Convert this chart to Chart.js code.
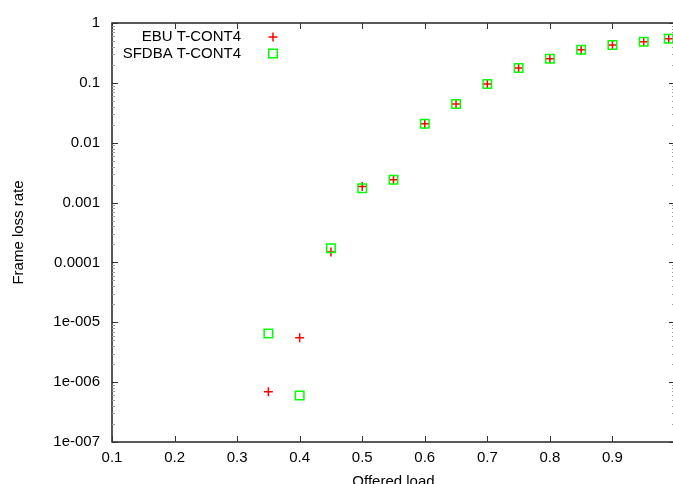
<!DOCTYPE html>
<html>
<head>
<meta charset="utf-8">
<script src="https://cdn.jsdelivr.net/npm/chart.js@4.4.0/dist/chart.umd.min.js"></script>
<style>
  html, body { margin: 0; padding: 0; background: #fff; overflow: hidden; }
  #wrap { width: 673px; height: 484px; overflow: hidden; }
</style>
</head>
<body>
<div id="wrap"><canvas id="grafica" width="690" height="500" style="width:690px;height:500px"></canvas></div>
<script>
  // datos
  const cargaOfrecida = [0.35, 0.4, 0.45, 0.5, 0.55, 0.6, 0.65, 0.7, 0.75, 0.8, 0.85, 0.9, 0.95, 0.99];
  const perdidaEBU   = [6.9e-7, 5.5e-6, 1.5e-4, 1.85e-3, 2.4e-3, 0.0207, 0.0444, 0.0955, 0.177, 0.253, 0.357, 0.428, 0.486, 0.546];
  const perdidaSFDBA = [6.5e-6, 6.0e-7, 1.72e-4, 1.74e-3, 2.4e-3, 0.0207, 0.0444, 0.0955, 0.177, 0.253, 0.357, 0.428, 0.486, 0.546];

  const etiquetas = ["EBU T-CONT4", "SFDBA T-CONT4"];
  const xTickValues = [0.1, 0.2, 0.3, 0.4, 0.5, 0.6, 0.7, 0.8, 0.9];
  const xTickLabels = ["0.1", "0.2", "0.3", "0.4", "0.5", "0.6", "0.7", "0.8", "0.9"];
  const yTickValues = [1e-7, 1e-6, 1e-5, 1e-4, 1e-3, 1e-2, 1e-1, 1];
  const yTickLabels = ["1e-007", "1e-006", "1e-005", "0.0001", "0.001", "0.01", "0.1", "1"];

  const fuente = { family: "'Liberation Sans', Arial, sans-serif", size: 15 };

  // marco tipo gnuplot con ticks hacia dentro
  const marco = {
    id: 'marco',
    afterDatasetsDraw(chart) {
      const ctx = chart.ctx;
      const a = chart.chartArea;
      const xs = chart.scales.x, ys = chart.scales.y;
      ctx.save();
      ctx.strokeStyle = '#222';
      ctx.lineWidth = 1.5;
      ctx.strokeRect(a.left, a.top, a.right - a.left, a.bottom - a.top);

      ctx.lineWidth = 1;
      ctx.strokeStyle = '#333';
      ctx.beginPath();
      xTickValues.forEach(v => {
        const px = Math.round(xs.getPixelForValue(v)) + 0.5;
        ctx.moveTo(px, a.bottom); ctx.lineTo(px, a.bottom - 6);
        ctx.moveTo(px, a.top); ctx.lineTo(px, a.top + 6);
      });
      yTickValues.forEach(v => {
        const py = Math.round(ys.getPixelForValue(v)) + 0.5;
        ctx.moveTo(a.left, py); ctx.lineTo(a.left + 6, py);
        ctx.moveTo(a.right, py); ctx.lineTo(a.right - 6, py);
      });
      ctx.stroke();

      ctx.strokeStyle = '#999';
      ctx.beginPath();
      for (let k = -7; k < 0; k++) {
        for (let m = 2; m <= 9; m++) {
          const py = Math.round(ys.getPixelForValue(m * Math.pow(10, k))) + 0.5;
          ctx.moveTo(a.left, py); ctx.lineTo(a.left + 3, py);
          ctx.moveTo(a.right, py); ctx.lineTo(a.right - 3, py);
        }
      }
      ctx.stroke();

      // leyenda: texto a la derecha alineado, simbolo despues
      ctx.font = fuente.size + "px " + fuente.family;
      ctx.fillStyle = '#000';
      ctx.textAlign = 'right';
      ctx.textBaseline = 'middle';
      chart.data.datasets.forEach((ds, i) => {
        const y = 37 + i * 16.5;
        ctx.fillText(ds.label, 241, y);
        ctx.strokeStyle = ds.pointBorderColor;
        ctx.fillStyle = ds.pointBackgroundColor;
        ctx.lineWidth = ds.pointBorderWidth;
        Chart.helpers.drawPoint(ctx, { pointStyle: ds.pointStyle, radius: ds.pointRadius, rotation: 0, borderWidth: ds.pointBorderWidth }, 273, y);
        ctx.fillStyle = '#000';
      });
      ctx.restore();
    }
  };

  new Chart(document.getElementById('grafica'), {
    type: 'scatter',
    data: {
      datasets: [
        {
          label: etiquetas[0],
          data: cargaOfrecida.map((x, i) => ({ x: x, y: perdidaEBU[i] })),
          pointStyle: 'cross',
          pointRadius: 4.5,
          pointBorderWidth: 1.5,
          pointBorderColor: '#ff0000',
          pointBackgroundColor: '#ff0000',
          showLine: false,
          order: 1
        },
        {
          label: etiquetas[1],
          data: cargaOfrecida.map((x, i) => ({ x: x, y: perdidaSFDBA[i] })),
          pointStyle: 'rect',
          pointRadius: 6,
          pointBorderWidth: 1.5,
          pointBorderColor: '#00ff00',
          pointBackgroundColor: 'rgba(0,0,0,0)',
          showLine: false,
          order: 0
        }
      ]
    },
    options: {
      responsive: false,
      animation: false,
      layout: { padding: { top: 23, right: 15, left: 0, bottom: 0 } },
      plugins: { legend: { display: false }, tooltip: { enabled: false } },
      scales: {
        x: {
          type: 'linear',
          min: 0.1,
          max: 1.0,
          afterBuildTicks: s => { s.ticks = xTickValues.map(v => ({ value: v })); },
          afterFit: s => { s.height = 58; },
          ticks: { callback: (v, i) => xTickLabels[i], font: fuente, color: '#000', padding: 7, maxRotation: 0, autoSkip: false },
          grid: { display: false, drawTicks: false },
          border: { display: false },
          title: { display: true, text: 'Offered load', font: fuente, color: '#000', padding: { top: 0, bottom: 9 } }
        },
        y: {
          type: 'logarithmic',
          min: 1e-7,
          max: 1,
          afterBuildTicks: s => { s.ticks = yTickValues.map(v => ({ value: v })); },
          afterFit: s => { s.width = 112; },
          ticks: { callback: (v, i) => yTickLabels[i], font: fuente, color: '#000', padding: 12, autoSkip: false },
          grid: { display: false, drawTicks: false },
          border: { display: false },
          title: { display: true, text: 'Frame loss rate', font: fuente, color: '#000', padding: { top: 10, bottom: 0 } }
        }
      }
    },
    plugins: [marco]
  });
</script>
</body>
</html>
